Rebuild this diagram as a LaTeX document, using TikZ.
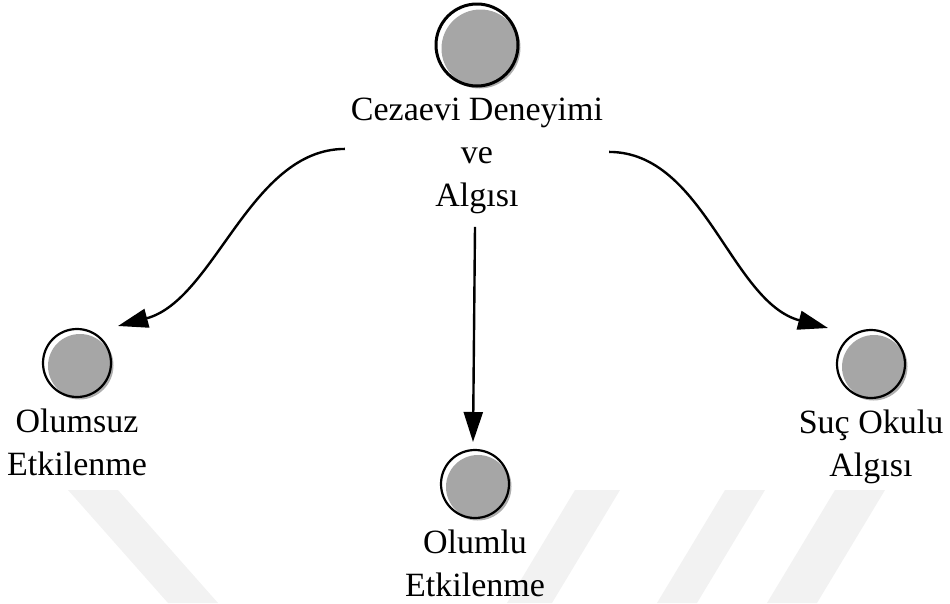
\documentclass[tikz,border=0pt]{standalone}
\usepackage{fontspec}
\setmainfont{Liberation Serif}
\usetikzlibrary{positioning,shadows,arrows.meta}
\newcommand{\lblfont}{\fontsize{34}{43}\selectfont}
\tikzstyle{bub}=[circle,draw,fill=white,line width=2.2pt,minimum size=68pt,inner sep=0,outer sep=0,
  drop shadow={shadow xshift=2.5pt,shadow yshift=-2.5pt,fill=black!45,opacity=.7},
  path picture={\fill[black!35] ([shift={(3pt,-3pt)}]path picture bounding box.center) circle (32pt);}]
\tikzstyle{bigbub}=[bub,line width=3pt,minimum size=82pt,
  path picture={\fill[black!35] ([shift={(3.5pt,-3.5pt)}]path picture bounding box.center) circle (39pt);}]
\tikzstyle{lbl}=[font=\lblfont,align=center,inner sep=0,outer sep=0]
\tikzstyle{arr}=[-{Triangle[length=30pt,width=19pt]},line width=2.4pt]
\tikzstyle{wm}=[fill=black!5]

\begin{document}
\begin{tikzpicture}[x=1pt,y=-1pt]
  \useasboundingbox (0,0) rectangle (950,603);

  % watermark
  \fill[wm] (68,490) -- (118,490) -- (218,603) -- (168,603) -- cycle;
  \fill[wm] (575,490) -- (620,490) -- (552,603) -- (507,603) -- cycle;
  \fill[wm] (725,490) -- (765,490) -- (697,603) -- (657,603) -- cycle;
  \fill[wm] (835,490) -- (885,490) -- (817,603) -- (767,603) -- cycle;

  \node[bigbub] (cz) at (477,45) {};
  \node[lbl, below=12pt of cz] (czl) {Cezaevi Deneyimi\\ve\\Algısı};

  \node[bub] (os) at (77,363) {};
  \node[lbl, below=12pt of os] (osl) {Olumsuz\\Etkilenme};

  \node[bub] (ol) at (475,484) {};
  \node[lbl, below=12pt of ol] (oll) {Olumlu\\Etkilenme};

  \node[bub] (so) at (871,364) {};
  \node[lbl, below=12pt of so] (sol) {Suç Okulu\\Algısı};

  \draw[arr] ([shift={(-6,-7)}]czl.west) .. controls +(-95,0) and +(97,-26) .. ([shift={(41,-37)}]os.center);
  \draw[arr] ([shift={(-2,13)}]czl.south) -- ([shift={(-2,-42)}]ol.center);
  \draw[arr] ([shift={(6,-4)}]czl.east) .. controls +(95,0) and +(-97,-26) .. ([shift={(-43,-36)}]so.center);

\end{tikzpicture}
\end{document}
